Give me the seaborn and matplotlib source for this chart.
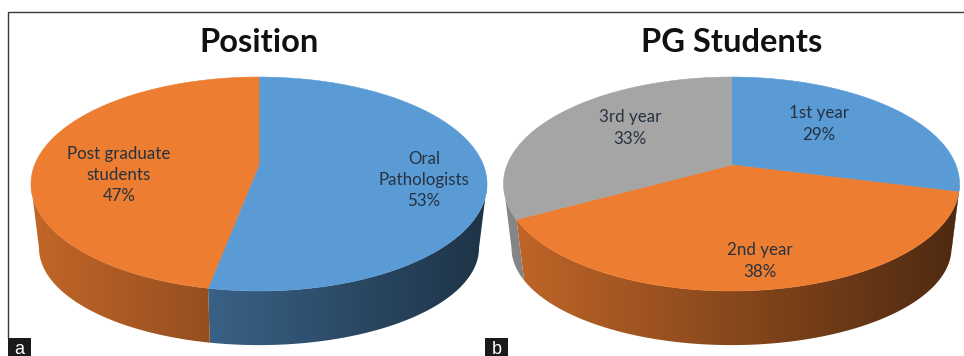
import numpy as np
import matplotlib
matplotlib.use("Agg")
import matplotlib.pyplot as plt
import matplotlib.colors as mcolors
from matplotlib.patches import Polygon, Rectangle
import seaborn as sns

sns.set_theme(style="white")
plt.rcParams["font.family"] = ["Lato", "DejaVu Sans"]

# Survey shares
position_labels = ["Oral\nPathologists", "Post graduate\nstudents"]
position_values = [53, 47]
position_colors = ["#5B9BD5", "#ED7D31"]

pg_labels = ["1st year", "2nd year", "3rd year"]
pg_values = [29, 38, 33]
pg_colors = ["#5B9BD5", "#ED7D31", "#A5A5A5"]

TILT = 0.1776
TOP = dict(r=224.4, a=103.6, cy=165.0)
BOTTOM = dict(r=216.5, a=94.0, cy=230.8)
# Angles at which the disc is widest on screen: the visible rim lies between them
RIM_START = np.pi / 2 + np.arcsin(TILT)
RIM_END = 3 * np.pi / 2 - np.arcsin(TILT)


def project(theta, cx, disc):
    """Clockwise angle from 12 o'clock to canvas coordinates under perspective."""
    ux, uy = np.sin(theta), np.cos(theta)
    w = 1 + TILT * uy
    return cx + disc["r"] * ux / w, disc["cy"] - disc["a"] * uy / w


def draw_pie(ax, cx, values, colors):
    fractions = np.asarray(values, float) / np.sum(values)
    edges = np.concatenate([[0], np.cumsum(fractions)]) * 2 * np.pi

    for start, end, color in zip(edges[:-1], edges[1:], colors):
        # Rim: a left-to-right shaded strip clipped to the slice's outer wall
        lo, hi = max(start, RIM_START), min(end, RIM_END)
        if hi > lo:
            arc = np.linspace(lo, hi, 200)
            xt, yt = project(arc, cx, TOP)
            xb, yb = project(arc[::-1], cx, BOTTOM)
            base = np.array(mcolors.to_rgb(color))
            ramp = np.array(sns.blend_palette([base * 0.82, base * 0.33], 256))
            image = ax.imshow(ramp[np.newaxis, :, :], extent=[cx - 228, cx + 228, 356, 0],
                              aspect="auto", interpolation="bilinear", zorder=2)
            outline = Polygon(np.c_[np.r_[xt, xb], np.r_[yt, yb]], closed=True,
                              transform=ax.transData)
            image.set_clip_path(outline)

        # Top face
        arc = np.linspace(start, end, 240)
        x, y = project(arc, cx, TOP)
        ax.fill(np.r_[cx, x], np.r_[TOP["cy"], y], color=color, lw=0.4, zorder=3)


fig = plt.figure(figsize=(9.64, 3.56), dpi=100, facecolor="white")
ax = fig.add_axes([0, 0, 1, 1])

draw_pie(ax, 259, position_values, position_colors)
draw_pie(ax, 731.5, pg_values, pg_colors)

ax.set_xlim(0, 964)
ax.set_ylim(356, 0)
ax.axis("off")

# Panel frame and corner tags
ax.plot([8, 8, 964], [338, 12, 12], color="#3a3a3a", lw=1.0, zorder=1)
for x0, tag in [(8, "a"), (485, "b")]:
    ax.add_patch(Rectangle((x0, 338), 23, 18, color="#1a1a1a", lw=0, zorder=6))
    ax.text(x0 + 11.5, 349, tag, color="white", fontsize=13, ha="center",
            va="center", family="Liberation Sans", zorder=7)

title_style = dict(fontsize=23.5, fontweight="bold", color="#111111",
                   ha="center", va="center", zorder=5)
ax.text(259, 42, "Position", **title_style)
ax.text(732, 42, "PG Students", **title_style)

label_style = dict(fontsize=12.2, color="#26323f", ha="center", va="center",
                   linespacing=1.42, zorder=5)
position_spots = [(424, 180), (119, 175)]
for (x, y), name, val in zip(position_spots, position_labels, position_values):
    ax.text(x, y, f"{name}\n{val}%", **label_style)
pg_spots = [(819, 124), (760, 261), (630, 128)]
for (x, y), name, val in zip(pg_spots, pg_labels, pg_values):
    ax.text(x, y, f"{name}\n{val}%", **label_style)

fig.savefig("out.png", dpi=100)
